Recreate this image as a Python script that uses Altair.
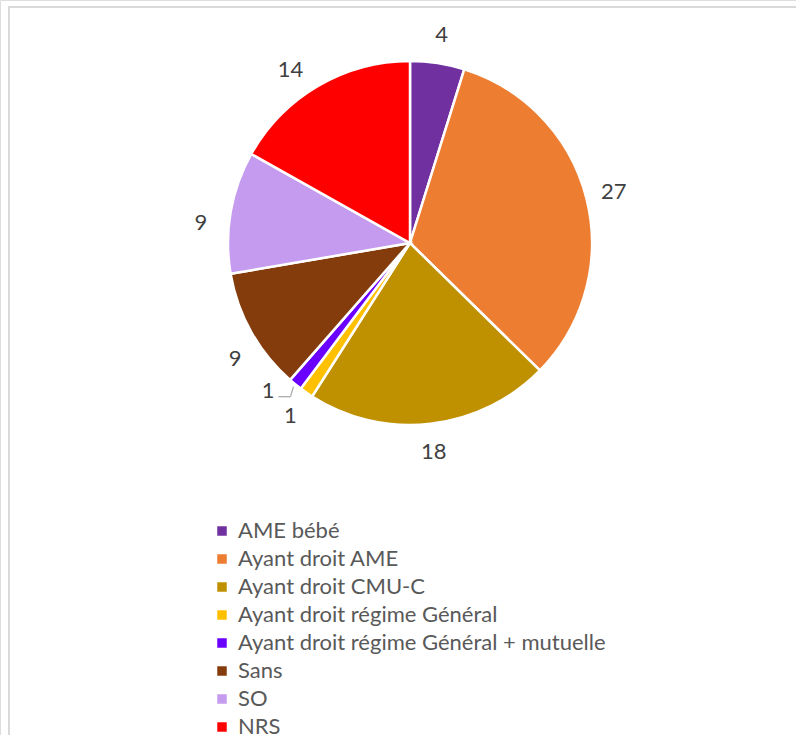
import altair as alt
import pandas as pd

# Répartition des patients par couverture sociale
categories = [
    "AME bébé",
    "Ayant droit AME",
    "Ayant droit CMU-C",
    "Ayant droit régime Général",
    "Ayant droit régime Général + mutuelle",
    "Sans",
    "SO",
    "NRS",
]
values = [4, 27, 18, 1, 1, 9, 9, 14]
colors = ["#7030A0", "#ED7D31", "#BF9000", "#FFC000", "#6A00FF", "#843C0C", "#C49BEE", "#FF0000"]

df = pd.DataFrame({"cat": categories, "value": values, "idx": list(range(len(values)))})

CX, CY, R = 410, 243, 182
FONT = "Lato"
TEXT_COLOR = "#404040"

base = alt.Chart(df)

color = alt.Color(
    "cat:N",
    scale=alt.Scale(domain=categories, range=colors),
    sort=categories,
    legend=alt.Legend(
        title=None,
        orient="none",
        legendX=211,
        legendY=520,
        symbolType="square",
        symbolSize=90,
        symbolStrokeWidth=0,
        labelFont=FONT,
        labelFontSize=22,
        labelColor="#595959",
        labelLimit=600,
        rowPadding=6,
        labelOffset=5,
    ),
)

theta = alt.Theta("value:Q", stack=True)
order = alt.Order("idx:Q", sort="ascending")

pie = base.mark_arc(outerRadius=R, stroke="white", strokeWidth=2.5).encode(
    theta=theta, color=color, order=order,
    x=alt.value(CX), y=alt.value(CY),
)

labels = base.transform_filter(
    alt.datum.cat != "Ayant droit régime Général + mutuelle"
).mark_text(radius=210, font=FONT, fontSize=22, color=TEXT_COLOR).encode(
    theta=theta, order=order, text="value:Q",
    x=alt.value(CX), y=alt.value(CY),
)

# Leader line and label for the small "mutuelle" slice, placed from its mid-angle
lead = (
    base.transform_joinaggregate(total="sum(value)")
    .transform_window(cum="sum(value)", sort=[alt.SortField("idx")])
    .transform_calculate(mid="(datum.cum - datum.value / 2) / datum.total * 2 * PI")
    .transform_filter(alt.datum.cat == "Ayant droit régime Général + mutuelle")
    .transform_calculate(
        x0=f"{CX} + {R + 3} * sin(datum.mid)",
        y0=f"{CY} - {R + 3} * cos(datum.mid)",
    )
    .transform_calculate(x1="datum.x0 - 3", y1="datum.y0 + 10")
    .transform_calculate(x2="datum.x1 - 12", y2="datum.y1")
)

seg1 = lead.mark_rule(color="#A6A6A6", strokeWidth=1.2).encode(
    x=alt.X("x0:Q", scale=None), y=alt.Y("y0:Q", scale=None),
    x2="x1:Q", y2="y1:Q",
)
seg2 = lead.mark_rule(color="#A6A6A6", strokeWidth=1.2).encode(
    x=alt.X("x1:Q", scale=None), y=alt.Y("y1:Q", scale=None),
    x2="x2:Q", y2="y2:Q",
)
lead_text = lead.mark_text(
    font=FONT, fontSize=22, color=TEXT_COLOR, align="right", baseline="middle"
).encode(
    x=alt.X("x2:Q", scale=None), y=alt.Y("y2:Q", scale=None), text="value:Q",
    xOffset=alt.value(-4), yOffset=alt.value(-6),
)

frame = alt.Chart(pd.DataFrame({"k": [0]})).mark_rect(
    fill=None, stroke="#D9D9D9", strokeWidth=2
).encode(
    x=alt.value(9), y=alt.value(7), x2=alt.value(820), y2=alt.value(760)
)

chart = (
    alt.layer(frame, pie, labels, seg1, seg2, lead_text)
    .properties(width=796, height=735, autosize=alt.AutoSizeParams(type="none"), padding=0)
    .configure_view(stroke=None)
    .configure(background="white")
)

chart.save("out.html", embed_options={"renderer": "svg", "actions": False})
